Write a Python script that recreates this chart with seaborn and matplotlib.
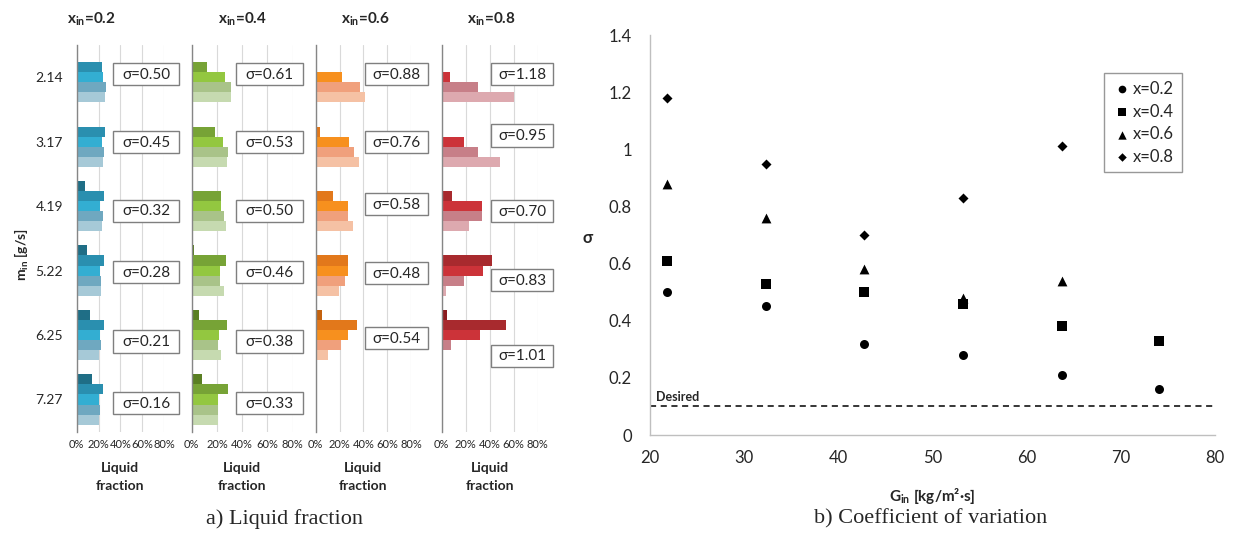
import numpy as np
import pandas as pd
import matplotlib
matplotlib.use("Agg")
import matplotlib.pyplot as plt
from matplotlib.patches import Rectangle
from matplotlib.ticker import FixedLocator, FuncFormatter
import seaborn as sns

# ---------------- data ----------------
m_in = ["2.14", "3.17", "4.19", "5.22", "6.25", "7.27"]
outlets = ["1", "2", "3", "4", "5"]
x_in = ["0.2", "0.4", "0.6", "0.8"]

nan = np.nan
frac_x02 = [[0.0, 23.4, 24.0, 26.4, 25.8],
            [1.2, 25.8, 22.8, 24.6, 24.0],
            [7.6, 25.2, 21.3, 23.7, 22.8],
            [9.1, 25.2, 21.3, 22.5, 21.9],
            [12.2, 24.6, 21.0, 22.2, 20.0],
            [14.0, 23.7, 20.0, 21.3, 20.0]]
frac_x04 = [[0.0, 12.4, 26.3, 30.8, 30.8],
            [0.0, 18.2, 25.0, 28.4, 27.9],
            [0.0, 23.4, 23.4, 25.5, 26.8],
            [1.8, 27.1, 22.6, 22.4, 25.5],
            [5.8, 28.2, 21.8, 21.0, 22.9],
            [7.9, 28.9, 20.5, 20.5, 20.5]]
frac_x06 = [[0.0, 0.0, 21.7, 36.9, 41.1],
            [0.0, 3.6, 27.8, 31.9, 36.4],
            [0.0, 14.2, 26.7, 26.7, 31.4],
            [1.1, 27.2, 27.2, 24.2, 19.7],
            [5.3, 34.7, 27.2, 21.1, 10.3],
            [nan, nan, nan, nan, nan]]
frac_x08 = [[0.0, 0.0, 7.1, 30.5, 60.2],
            [0.0, 0.0, 18.4, 30.2, 48.9],
            [0.0, 8.2, 33.2, 33.2, 22.5],
            [0.0, 41.5, 34.6, 18.4, 3.8],
            [4.4, 53.3, 31.6, 8.0, 0.8],
            [nan, nan, nan, nan, nan]]

sigma_x02 = [0.50, 0.45, 0.32, 0.28, 0.21, 0.16]
sigma_x04 = [0.61, 0.53, 0.50, 0.46, 0.38, 0.33]
sigma_x06 = [0.88, 0.76, 0.58, 0.48, 0.54, nan]
sigma_x08 = [1.18, 0.95, 0.70, 0.83, 1.01, nan]

G_in = [21.8, 32.3, 42.7, 53.2, 63.7, 74.1]
desired_sigma = 0.1

fracs = [frac_x02, frac_x04, frac_x06, frac_x08]
sigmas = [sigma_x02, sigma_x04, sigma_x06, sigma_x08]

# ---------------- style ----------------
sns.set_theme(style="white")
plt.rcParams["font.family"] = ["Lato", "DejaVu Sans"]
plt.rcParams["mathtext.fontset"] = "custom"
plt.rcParams["mathtext.rm"] = "Lato"
plt.rcParams["mathtext.bf"] = "Lato:bold"
plt.rcParams["mathtext.it"] = "Lato:italic"

palettes = [
    ["#1F6E86", "#2A8FAF", "#33AED2", "#6FA8C0", "#A6C9D7"],
    ["#5A7F23", "#77A336", "#93C740", "#A9C389", "#C6DAB0"],
    ["#C4620E", "#E2781B", "#F7901E", "#F0A07C", "#F5C1A4"],
    ["#8C1C20", "#A82A2E", "#CC3339", "#C77F88", "#DDA9AF"],
]

W, H = 1233, 533
fig = plt.figure(figsize=(W / 100, H / 100), dpi=100)
fig.patch.set_facecolor("white")

def fx(px):
    return px / W

def fy(py):
    return 1 - py / H

panel_px = [(76.7, 164.0), (191.7, 292.7), (315.7, 411.0), (441.7, 537.7)]
top_px, bot_px = 45.0, 431.7
title_cx = [91, 242, 365, 491]
# sigma box layout: (left %, right %) and vertical offsets in row units
box_x = [(33.3, 93.7), (35.0, 88.0), (41.4, 94.0), (41.0, 93.0)]
box_dy = [[-0.05, 0.01, 0.07, 0.02, 0.10, 0.06],
          [-0.05, 0.01, 0.07, 0.02, 0.10, 0.06],
          [-0.05, 0.01, -0.03, 0.04, 0.05, 0.0],
          [-0.05, -0.095, 0.08, 0.15, 0.32, 0.0]]

gray = "#868686"
for i in range(4):
    l, r = panel_px[i]
    ax = fig.add_axes([fx(l), fy(bot_px), (r - l) / W, (bot_px - top_px) / H])
    rows = []
    for j, m in enumerate(m_in):
        for k, o in enumerate(outlets):
            rows.append({"m_in": m, "outlet": o, "frac": fracs[i][j][k]})
    df = pd.DataFrame(rows)
    sns.barplot(data=df, x="frac", y="m_in", hue="outlet", orient="h",
                order=m_in, hue_order=outlets, palette=palettes[i],
                width=0.78, saturation=1, errorbar=None, legend=False,
                linewidth=0, ax=ax, zorder=2)
    ax.set_xlim(0, 80)
    ax.set_ylim(5.5, -0.5)
    ax.set_xticks([0, 20, 40, 60, 80])
    ax.xaxis.set_major_formatter(FuncFormatter(lambda v, p: f"{int(v)}%"))
    ax.tick_params(axis="x", length=0, labelsize=8, pad=5, labelcolor="#262626")
    ax.xaxis.grid(True, color="#D9D9D9", lw=0.8, zorder=0)
    ax.yaxis.grid(False)
    ax.set_axisbelow(True)
    for s in ["top", "right", "bottom"]:
        ax.spines[s].set_visible(False)
    ax.spines["left"].set_color(gray)
    ax.spines["left"].set_linewidth(1.0)
    ax.set_xlabel("")
    ax.set_ylabel("")
    if i == 0:
        ax.set_yticks(range(len(m_in)))
        ax.set_yticklabels(m_in)
        ax.tick_params(axis="y", which="major", length=0, labelsize=10,
                       pad=10, labelcolor="#262626")
        ax.yaxis.set_minor_locator(FixedLocator(np.arange(-0.5, 6.0, 1.0)))
        ax.tick_params(axis="y", which="minor", length=5, color=gray,
                       direction="out", width=0.8)
    else:
        ax.set_yticks([])
    # sigma boxes
    bl, br = box_x[i]
    bh = 0.345
    for j, sv in enumerate(sigmas[i]):
        if np.isnan(sv):
            continue
        yc = j + box_dy[i][j]
        rect = Rectangle((bl, yc - bh / 2), br - bl, bh, facecolor="white",
                         edgecolor="#7F7F7F", lw=1.0, clip_on=False, zorder=5)
        ax.add_patch(rect)
        ax.text((bl + br) / 2, yc + 0.01, f"σ={sv:.2f}", ha="center", va="center",
                fontsize=11, color="#262626", clip_on=False, zorder=6)
    # panel title
    fig.text(fx(title_cx[i]), fy(19), r"$\mathbf{x_{in}}$" + f"={x_in[i]}",
             ha="center", va="center", fontsize=11, fontweight="bold")
    # x label
    fig.text(fx((l + r) / 2), fy(477), "Liquid\nfraction", ha="center",
             va="center", fontsize=10, fontweight="bold", linespacing=1.5)

fig.text(fx(22), fy(255), r"$\mathbf{m_{in}}$ [g/s]", rotation=90,
         ha="center", va="center", fontsize=10, fontweight="bold")

# ---------------- right panel ----------------
ax2 = fig.add_axes([fx(650), fy(435), 565 / W, 400 / H])
series_names = ["x=0.2", "x=0.4", "x=0.6", "x=0.8"]
marker_list = ["o", "s", "^", "D"]
marker_size = [42, 42, 50, 26]
for s_name, svals, mk, ms in zip(series_names, sigmas, marker_list, marker_size):
    d = pd.DataFrame({"G": G_in, "sigma": svals}).dropna()
    sns.scatterplot(data=d, x="G", y="sigma", marker=mk, color="black", s=ms,
                    linewidth=0, ax=ax2, zorder=3, label=s_name)
ax2.axhline(desired_sigma, color="black", ls=(0, (4, 3)), lw=1.1, zorder=2)
ax2.text(20.6, desired_sigma + 0.012, "Desired", fontsize=9, fontweight="bold",
         ha="left", va="bottom")
ax2.set_xlim(20, 80)
ax2.set_ylim(0, 1.4)
ax2.set_xticks(np.arange(20, 81, 10))
ax2.set_yticks(np.arange(0, 1.41, 0.2))
ax2.yaxis.set_major_formatter(FuncFormatter(lambda v, p: f"{round(v, 1):g}"))
ax2.tick_params(axis="both", length=5, color=gray, direction="out",
                labelsize=12, width=0.8, labelcolor="#262626")
ax2.tick_params(axis="y", pad=8)
ax2.tick_params(axis="x", pad=6)
for s in ["top", "right"]:
    ax2.spines[s].set_visible(False)
for s in ["left", "bottom"]:
    ax2.spines[s].set_color("#BFBFBF")
    ax2.spines[s].set_linewidth(1.0)
ax2.set_xlabel("")
ax2.set_ylabel("")
handles, labels = ax2.get_legend_handles_labels()
leg = ax2.legend(handles, labels, loc="upper right",
                 bbox_to_anchor=((1190 - 650) / 565, (435 - 65) / 400),
                 frameon=True, fancybox=False, fontsize=12, handletextpad=0.1,
                 borderpad=0.45, labelspacing=0.4, handlelength=1.2,
                 markerscale=0.85)
leg.get_frame().set_edgecolor("#7F7F7F")
leg.get_frame().set_linewidth(1.0)

fig.text(fx(588), fy(238), "σ", ha="center", va="center", fontsize=12,
         fontweight="bold")
fig.text(fx(932), fy(496), r"$\mathbf{G_{in}}$ [kg/m²·s]", ha="center",
         va="center", fontsize=11, fontweight="bold")

# captions
fig.text(fx(284), fy(519), "a) Liquid fraction", ha="center", va="center",
         fontsize=16, family=["Liberation Serif", "DejaVu Serif"])
fig.text(fx(931), fy(519), "b) Coefficient of variation", ha="center",
         va="center", fontsize=16, family=["Liberation Serif", "DejaVu Serif"])

fig.savefig("out.png", dpi=100, facecolor="white")
